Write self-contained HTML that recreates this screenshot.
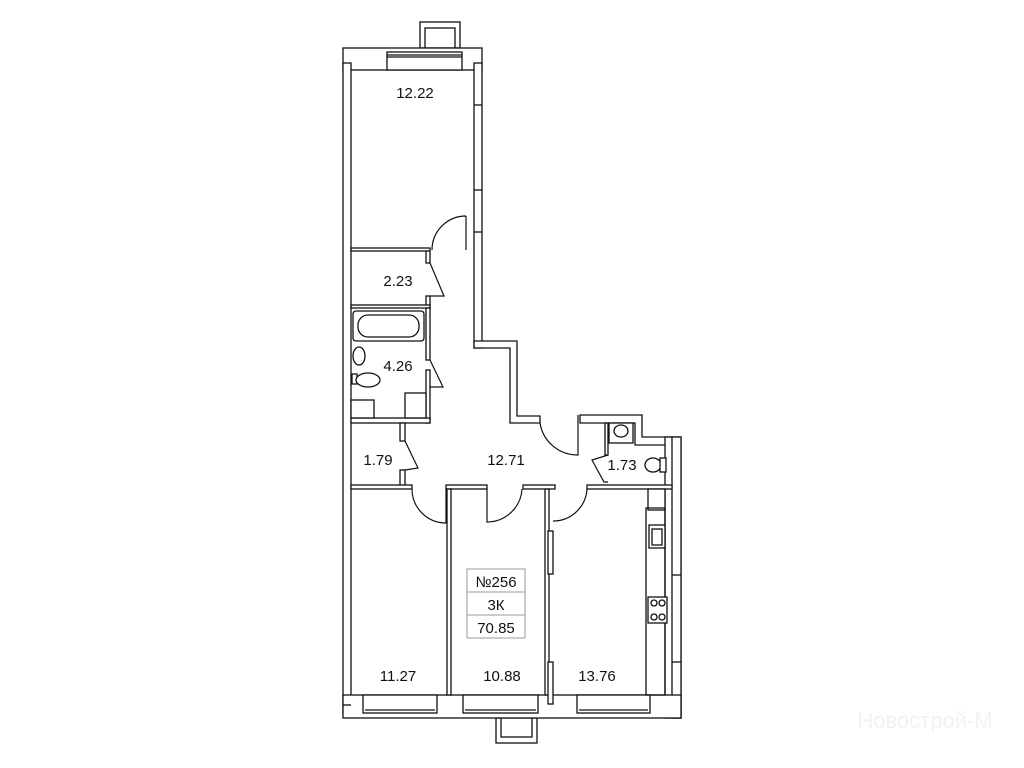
<!DOCTYPE html>
<html><head><meta charset="utf-8"><style>
html,body{margin:0;padding:0;background:#fff;}
svg{display:block;}
text{font-family:"Liberation Sans",sans-serif;font-size:15px;fill:#111;}
</style></head><body>
<svg width="1024" height="768" viewBox="0 0 1024 768" xmlns="http://www.w3.org/2000/svg">
<g fill="#fff" stroke="#111" stroke-width="1.3">
<rect x="420" y="22" width="40" height="26"/>
<rect x="425" y="28" width="30" height="20"/>
<rect x="496" y="718" width="41" height="25"/>
<rect x="501" y="718" width="31" height="19"/>
<rect x="343" y="48" width="139" height="22"/>
<rect x="387" y="52" width="75" height="18"/>
<line x1="387" y1="55" x2="462" y2="55"/>
<line x1="387" y1="57" x2="462" y2="57"/>
<rect x="343" y="63" width="8" height="650"/>
<rect x="474" y="63" width="8" height="285"/>
<line x1="474" y1="105" x2="482" y2="105"/>
<line x1="474" y1="190" x2="482" y2="190"/>
<line x1="474" y1="232" x2="482" y2="232"/>
<path d="M474 341 H517 V416 H540 V423 H510 V348 H474 Z"/>
<path d="M580 415 H642 V437 H672 V445 H635 V423 H580 Z"/>
<rect x="665" y="437" width="16" height="281"/>
<rect x="672" y="437" width="9" height="281"/>
<line x1="672" y1="575" x2="681" y2="575"/>
<line x1="672" y1="662" x2="681" y2="662"/>
<rect x="343" y="695" width="338" height="23"/>
<rect x="363" y="695" width="74" height="18"/>
<rect x="463" y="695" width="75" height="18"/>
<rect x="577" y="695" width="73" height="18"/>
<line x1="365" y1="710" x2="435" y2="710"/>
<line x1="465" y1="710" x2="536" y2="710"/>
<line x1="579" y1="710" x2="648" y2="710"/>
<line x1="343" y1="705" x2="351" y2="705"/>
<rect x="351" y="248" width="79" height="3"/>
<rect x="426" y="251" width="4" height="12"/>
<rect x="426" y="296" width="4" height="12"/>
<rect x="351" y="305" width="79" height="3"/>
<rect x="426" y="308" width="4" height="52"/>
<rect x="426" y="370" width="4" height="53"/>
<rect x="351" y="418" width="79" height="5"/>
<rect x="400" y="423" width="5" height="18"/>
<rect x="400" y="470" width="5" height="18"/>
<rect x="351" y="485" width="61" height="4"/>
<rect x="446" y="485" width="41" height="4"/>
<rect x="523" y="485" width="32" height="4"/>
<rect x="587" y="485" width="85" height="4"/>
<rect x="447" y="489" width="4" height="206"/>
<rect x="545" y="489" width="4" height="206"/>
<rect x="548" y="531" width="5" height="43"/>
<rect x="548" y="662" width="5" height="42"/>
<rect x="605" y="423" width="3" height="32"/>
<rect x="353" y="311" width="71" height="30" rx="3"/>
<rect x="358" y="315" width="61" height="22" rx="10"/>
<ellipse cx="359" cy="356" rx="6" ry="9"/>
<rect x="352" y="374" width="5" height="10"/>
<ellipse cx="368" cy="380" rx="12" ry="7"/>
<rect x="351" y="400" width="23" height="18"/>
<rect x="405" y="393" width="21" height="25"/>
<rect x="609" y="423" width="24" height="20"/>
<ellipse cx="621" cy="431" rx="7" ry="6"/>
<ellipse cx="653" cy="465" rx="8" ry="7"/>
<rect x="660" y="458" width="6" height="14"/>
<rect x="648" y="489" width="17" height="21"/>
<rect x="646" y="508" width="19" height="187" fill="none"/>
<rect x="649" y="525" width="16" height="23"/>
<rect x="652" y="529" width="10" height="16"/>
<rect x="648" y="597" width="19" height="26"/>
<circle cx="654" cy="603" r="3"/><circle cx="662" cy="603" r="3"/>
<circle cx="654" cy="617" r="3"/><circle cx="662" cy="617" r="3"/>
</g>
<g fill="none" stroke="#111" stroke-width="1.2">
<path d="M466 216 V250 M466 216 A34 34 0 0 0 432 250"/>
<path d="M430 263 L444 296 L430 296"/>
<path d="M430 360 L443 387 L430 387"/>
<path d="M405 441 L418 468 L405 470"/>
<path d="M412 489 A34 34 0 0 0 446 523 V489"/>
<path d="M487 489 V522 A35 35 0 0 0 522 489"/>
<path d="M540 423 A38 38 0 0 0 578 455 V415"/>
<path d="M587 489 A34 34 0 0 1 553 521"/>
<path d="M608 455 L592 460 L604 482 L608 482"/>
</g>
<text x="415" y="98" text-anchor="middle">12.22</text>
<text x="398" y="286" text-anchor="middle">2.23</text>
<text x="398" y="371" text-anchor="middle">4.26</text>
<text x="378" y="465" text-anchor="middle">1.79</text>
<text x="506" y="465" text-anchor="middle">12.71</text>
<text x="622" y="470" text-anchor="middle">1.73</text>
<text x="398" y="681" text-anchor="middle">11.27</text>
<text x="502" y="681" text-anchor="middle">10.88</text>
<text x="597" y="681" text-anchor="middle">13.76</text>
<g fill="none" stroke="#999" stroke-width="1">
<rect x="467" y="569" width="58" height="69"/>
<line x1="467" y1="592" x2="525" y2="592"/>
<line x1="467" y1="615" x2="525" y2="615"/>
</g>
<text x="496" y="587" text-anchor="middle">№256</text>
<text x="496" y="610" text-anchor="middle">3К</text>
<text x="496" y="633" text-anchor="middle">70.85</text>
<text x="925" y="728" text-anchor="middle" style="font-size:22px;fill:#f2f2f2">Новострой-М</text>
</svg>
</body></html>
